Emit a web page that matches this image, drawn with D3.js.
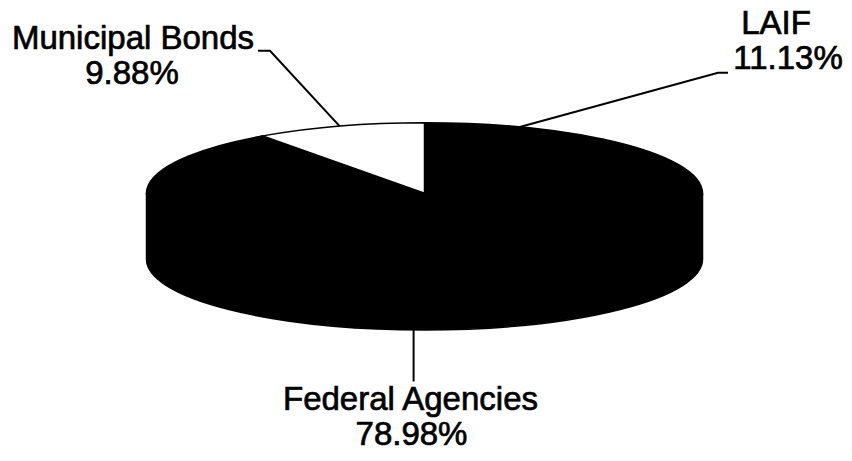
<!DOCTYPE html>
<html>
<head>
<meta charset="utf-8">
<script src="https://cdn.jsdelivr.net/npm/d3@7"></script>
<style>
  html, body { margin: 0; padding: 0; background: #fff; }
  svg { display: block; }
  text { font-family: "Liberation Sans", Arial, sans-serif; font-size: 33px; fill: #000; stroke: #000; stroke-width: 0.7px; }
</style>
</head>
<body>
<svg id="chart" width="852" height="461"></svg>
<script>
// ---- data ----
const categories = ["LAIF", "Federal Agencies", "Municipal Bonds"];
const values = [11.13, 78.98, 9.88];
const valueLabels = ["11.13%", "78.98%", "9.88%"];
const sliceColors = ["#000000", "#000000", "#ffffff"];

// ---- layout ----
const W = 852, H = 461;
const cx = 424.5, cy = 193.3, rx = 278, ry = 70.6, depth = 66;

// label layout
const labelLayout = {
  "LAIF": { nx: 776, ny: 34, vx: 788, vy: 69, elbow: [[728, 72.7], [718, 72.7]], rim: "top" },
  "Federal Agencies": { nx: 410.5, ny: 410, vx: 411.5, vy: 445, elbow: [[413.6, 381.5]], rim: "bottom" },
  "Municipal Bonds": { nx: 133, ny: 48.5, vx: 132, vy: 84, elbow: [[258, 50.7], [270, 50.7]], rim: "top" }
};

const svg = d3.select("#chart");

const pie = d3.pie().sort(null).value(d => d.value);
const data = categories.map((c, i) => ({ name: c, value: values[i], label: valueLabels[i], color: sliceColors[i] }));
const arcs = pie(data);

const px = a => cx + rx * Math.sin(a);
const py = a => cy - ry * Math.cos(a);

// side walls (front half)
const wallG = svg.append("g");
arcs.forEach(d => {
  const s = Math.max(d.startAngle, Math.PI / 2);
  const e = Math.min(d.endAngle, 3 * Math.PI / 2);
  if (e <= s) return;
  const large = (e - s) > Math.PI ? 1 : 0;
  const p = `M${px(s)},${py(s)} A${rx},${ry} 0 ${large} 1 ${px(e)},${py(e)} ` +
            `L${px(e)},${py(e) + depth} A${rx},${ry} 0 ${large} 0 ${px(s)},${py(s) + depth} Z`;
  wallG.append("path").attr("d", p)
    .attr("fill", d.data.color === "#ffffff" ? "#ffffff" : "#000")
    .attr("stroke", "#000").attr("stroke-width", 1.5);
});

// top faces
const topG = svg.append("g");
arcs.forEach(d => {
  const a0 = d.startAngle, a1 = d.endAngle;
  const large = (a1 - a0) > Math.PI ? 1 : 0;
  const p = `M${cx},${cy} L${px(a0)},${py(a0)} A${rx},${ry} 0 ${large} 1 ${px(a1)},${py(a1)} Z`;
  topG.append("path").attr("d", p)
    .attr("fill", d.data.color)
    .attr("stroke", "#000").attr("stroke-width", 1.5);
});

// leader lines and labels
const labG = svg.append("g");
arcs.forEach(d => {
  const L = labelLayout[d.data.name];
  const mid = (d.startAngle + d.endAngle) / 2;
  const rimPt = L.rim === "top"
    ? [px(mid), py(mid)]
    : [px(mid), cy + ry * Math.abs(Math.cos(mid)) + depth];
  const pts = L.elbow.concat([rimPt]);
  if (L.rim === "bottom") pts[0] = [rimPt[0], pts[0][1]];
  labG.append("path")
    .attr("d", d3.line()(pts))
    .attr("fill", "none").attr("stroke", "#000").attr("stroke-width", 2);
  labG.append("text").attr("x", L.nx).attr("y", L.ny).attr("text-anchor", "middle").text(d.data.name);
  labG.append("text").attr("x", L.vx).attr("y", L.vy).attr("text-anchor", "middle").text(d.data.label);
});
</script>
</body>
</html>
